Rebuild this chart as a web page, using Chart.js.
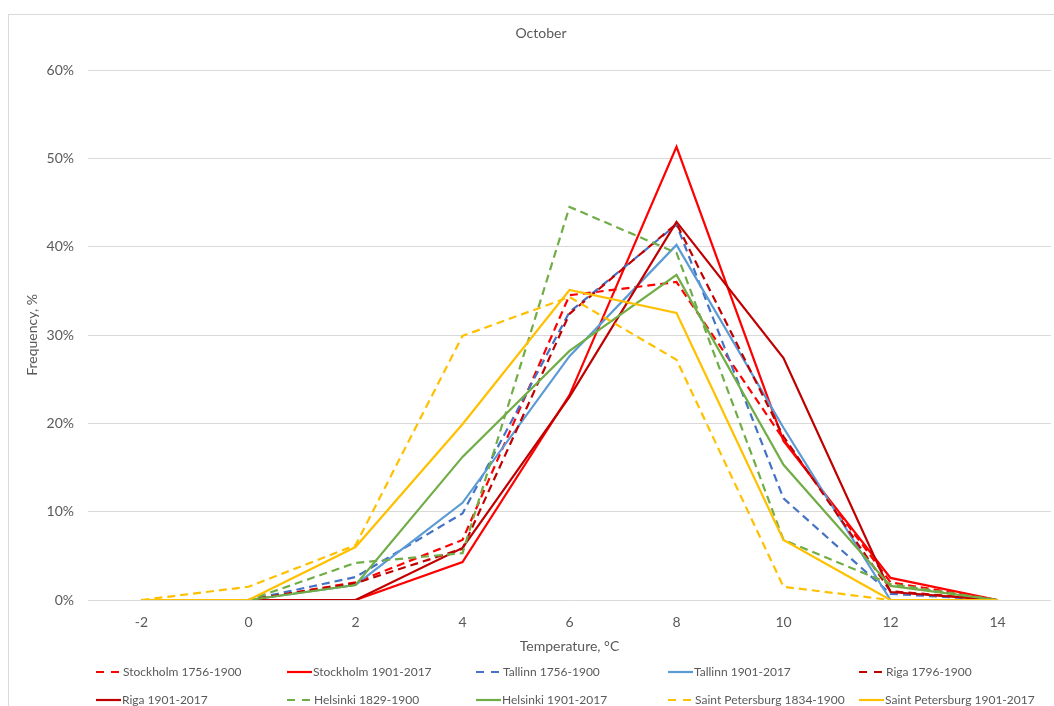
<!DOCTYPE html>
<html>
<head>
<meta charset="utf-8">
<title>October</title>
<script src="https://cdn.jsdelivr.net/npm/chart.js@4/dist/chart.umd.min.js"></script>
<style>
  html, body { margin: 0; padding: 0; background: #fff; overflow: hidden; }
  #frame { position: absolute; left: 8px; top: 14px; width: 1100px; height: 800px; border: 1px solid #d9d9d9; }
  #wrap { position: absolute; left: 0; top: 0; width: 1054px; height: 706px; }
</style>
</head>
<body>
<div id="frame"></div>
<div id="wrap"><canvas id="chart" width="1054" height="706"></canvas></div>
<script>
// x categories (temperature, °C)
const temps = ['-2', '0', '2', '4', '6', '8', '10', '12', '14'];
const yTicks = [0, 10, 20, 30, 40, 50, 60];

// frequency, %
const stockholm1756 = [0, 0, 2.0, 6.8, 34.5, 36.0, 18.2, 2.0, 0];
const stockholm1901 = [0, 0, 0, 4.3, 23.2, 51.3, 18.0, 2.5, 0];
const tallinn1756 = [0, 0, 2.6, 9.8, 32.6, 42.5, 11.5, 0.7, 0];
const tallinn1901 = [0, 0, 1.7, 11.0, 27.6, 40.2, 19.5, 0, 0];
const riga1796 = [0, 0, 1.9, 5.8, 32.4, 42.6, 18.5, 1.0, 0];
const riga1901 = [0, 0, 0, 5.9, 23.0, 42.8, 27.4, 0.9, 0];
const helsinki1829 = [0, 0, 4.2, 5.3, 44.5, 39.3, 6.8, 1.8, 0];
const helsinki1901 = [0, 0, 1.7, 16.2, 28.2, 36.8, 15.3, 1.6, 0];
const spb1834 = [0, 1.5, 6.2, 29.9, 34.3, 27.2, 1.5, 0, 0];
const spb1901 = [0, 0, 6.0, 19.9, 35.1, 32.5, 6.8, 0, 0];

const seriesNames = [
  'Stockholm 1756-1900', 'Stockholm 1901-2017', 'Tallinn 1756-1900', 'Tallinn 1901-2017', 'Riga 1796-1900',
  'Riga 1901-2017', 'Helsinki 1829-1900', 'Helsinki 1901-2017', 'Saint Petersburg 1834-1900', 'Saint Petersburg 1901-2017'
];
const seriesData = [stockholm1756, stockholm1901, tallinn1756, tallinn1901, riga1796,
  riga1901, helsinki1829, helsinki1901, spb1834, spb1901];
const seriesColors = ['#FF0000', '#FF0000', '#4472C4', '#5B9BD5', '#C00000',
  '#C00000', '#70AD47', '#70AD47', '#FFC000', '#FFC000'];
const seriesDashed = [true, false, true, false, true, false, true, false, true, false];

const FONT = 'Lato, "Open Sans", sans-serif';
const GREY = '#595959';
const DASH = [8, 5];

const datasets = seriesNames.map((name, i) => ({
  label: name,
  data: seriesData[i],
  borderColor: seriesColors[i],
  backgroundColor: seriesColors[i],
  borderWidth: 2.2,
  borderDash: seriesDashed[i] ? DASH : [],
  pointRadius: 0,
  tension: 0,
  fill: false,
  order: -i // later series on top, like the source
}));

// title + Excel-style grid legend drawn on the canvas
const decorations = {
  id: 'decorations',
  afterDraw(chart) {
    const ctx = chart.ctx;
    ctx.save();
    ctx.fillStyle = GREY;
    ctx.font = '14px ' + FONT;
    ctx.textAlign = 'center';
    ctx.textBaseline = 'middle';
    ctx.fillText('October', 541, 33);

    const cols = [96, 287, 476, 668, 859];
    const rows = [672, 700];
    ctx.font = '12px ' + FONT;
    ctx.textAlign = 'left';
    chart.data.datasets.forEach((ds, i) => {
      const x = cols[i % 5];
      const y = rows[Math.floor(i / 5)];
      const dashed = ds.borderDash.length > 0;
      ctx.strokeStyle = ds.borderColor;
      ctx.lineWidth = 2.2;
      ctx.setLineDash(dashed ? [8, 7] : []);
      ctx.beginPath();
      ctx.moveTo(x, y);
      ctx.lineTo(x + (dashed ? 23 : 25), y);
      ctx.stroke();
      ctx.setLineDash([]);
      ctx.fillStyle = GREY;
      ctx.fillText(ds.label, x + (dashed ? 27 : 26), y);
    });
    ctx.restore();
  }
};

new Chart(document.getElementById('chart'), {
  type: 'line',
  data: { labels: temps, datasets: datasets },
  plugins: [decorations],
  options: {
    responsive: false,
    animation: false,
    layout: { padding: { top: 70, right: 3, bottom: 0, left: 0 } },
    plugins: {
      legend: { display: false },
      title: { display: false },
      tooltip: { enabled: false }
    },
    scales: {
      x: {
        type: 'category',
        offset: true,
        grid: { display: false },
        border: { display: false },
        ticks: { color: GREY, font: { family: FONT, size: 14 }, padding: 6, maxRotation: 0 },
        title: { display: true, text: 'Temperature, °C', color: GREY, font: { family: FONT, size: 14 }, padding: { top: 0, bottom: 51 } },
        afterFit(scale) { scale.height = 106; }
      },
      y: {
        min: 0,
        max: 60,
        afterBuildTicks(scale) { scale.ticks = yTicks.map(v => ({ value: v })); },
        grid: { color: '#d9d9d9', lineWidth: 1, drawTicks: false },
        border: { display: false },
        ticks: { color: GREY, font: { family: FONT, size: 14 }, padding: 14, callback: v => v + '%' },
        title: { display: true, text: 'Frequency, %', color: GREY, font: { family: FONT, size: 14 }, padding: { top: 24, bottom: 0 } },
        afterFit(scale) { scale.width = 88; }
      }
    }
  }
});
</script>
</body>
</html>
